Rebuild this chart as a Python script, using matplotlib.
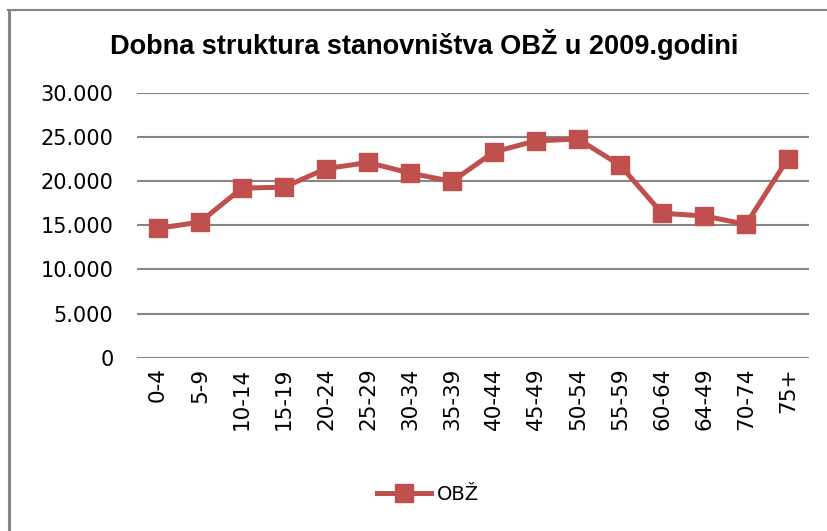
import matplotlib
matplotlib.use("Agg")
import matplotlib.pyplot as plt
from matplotlib.ticker import FuncFormatter
from matplotlib.lines import Line2D

# podaci procijenjeni sa slike
dobne_skupine = ["0-4", "5-9", "10-14", "15-19", "20-24", "25-29", "30-34", "35-39",
                 "40-44", "45-49", "50-54", "55-59", "60-64", "64-49", "70-74", "75+"]
stanovnici = [14650, 15350, 19200, 19300, 21400, 22100, 20900, 19950,
              23300, 24550, 24750, 21800, 16350, 16050, 15100, 22550]
y_ticks = [0, 5000, 10000, 15000, 20000, 25000, 30000]

naslov = "Dobna struktura stanovništva OBŽ u 2009.godini"
serija = "OBŽ"

boja = "#C0504D"
siva = "#868686"
font_tekst = ["DejaVu Sans"]
font_naslov = ["Liberation Sans Narrow", "Liberation Sans", "DejaVu Sans"]

fig = plt.figure(figsize=(8.27, 5.31), dpi=100)
ax = fig.add_axes([137 / 827, 1 - 357.7 / 531, 672 / 827, 265 / 531])

x = list(range(len(dobne_skupine)))
ax.plot(x, stanovnici, color=boja, lw=3.6, marker="s", ms=13.5,
        markeredgecolor=boja, label=serija, zorder=3)

ax.set_xlim(-0.5, len(dobne_skupine) - 0.5)
ax.set_ylim(0, 30000)
ax.set_yticks(y_ticks)
ax.yaxis.set_major_formatter(FuncFormatter(lambda v, p: f"{int(v):,}".replace(",", ".")))
ax.set_xticks(x)
ax.set_xticklabels(dobne_skupine, rotation=90, fontfamily=font_tekst, fontsize=15.5)
for lbl in ax.get_yticklabels():
    lbl.set_fontfamily(font_tekst)
    lbl.set_fontsize(15)

ax.tick_params(axis="y", length=0, pad=17, colors="black")
ax.tick_params(axis="x", length=0, pad=7, colors="black")
ax.grid(axis="y", color=siva, lw=1.5)
ax.set_axisbelow(True)
for s in ax.spines.values():
    s.set_visible(False)

fig.text(424 / 827, 1 - 45 / 531, naslov, ha="center", va="center",
         fontsize=19.5, fontweight="bold", fontfamily=font_naslov)

fig.legend(loc="center", bbox_to_anchor=(428 / 827, 1 - 494 / 531), frameon=False,
           prop={"family": font_tekst, "size": 14}, handlelength=2.8, handletextpad=0.3)

# okvir grafikona (lijevo i gore)
fig.add_artist(Line2D([9 / 827, 9 / 827], [0, 1 - 9.5 / 531], color=siva, lw=2.2,
                      transform=fig.transFigure))
fig.add_artist(Line2D([8 / 827, 1], [1 - 9.5 / 531, 1 - 9.5 / 531], color=siva, lw=1.5,
                      transform=fig.transFigure))

fig.savefig("out.png", dpi=100)
